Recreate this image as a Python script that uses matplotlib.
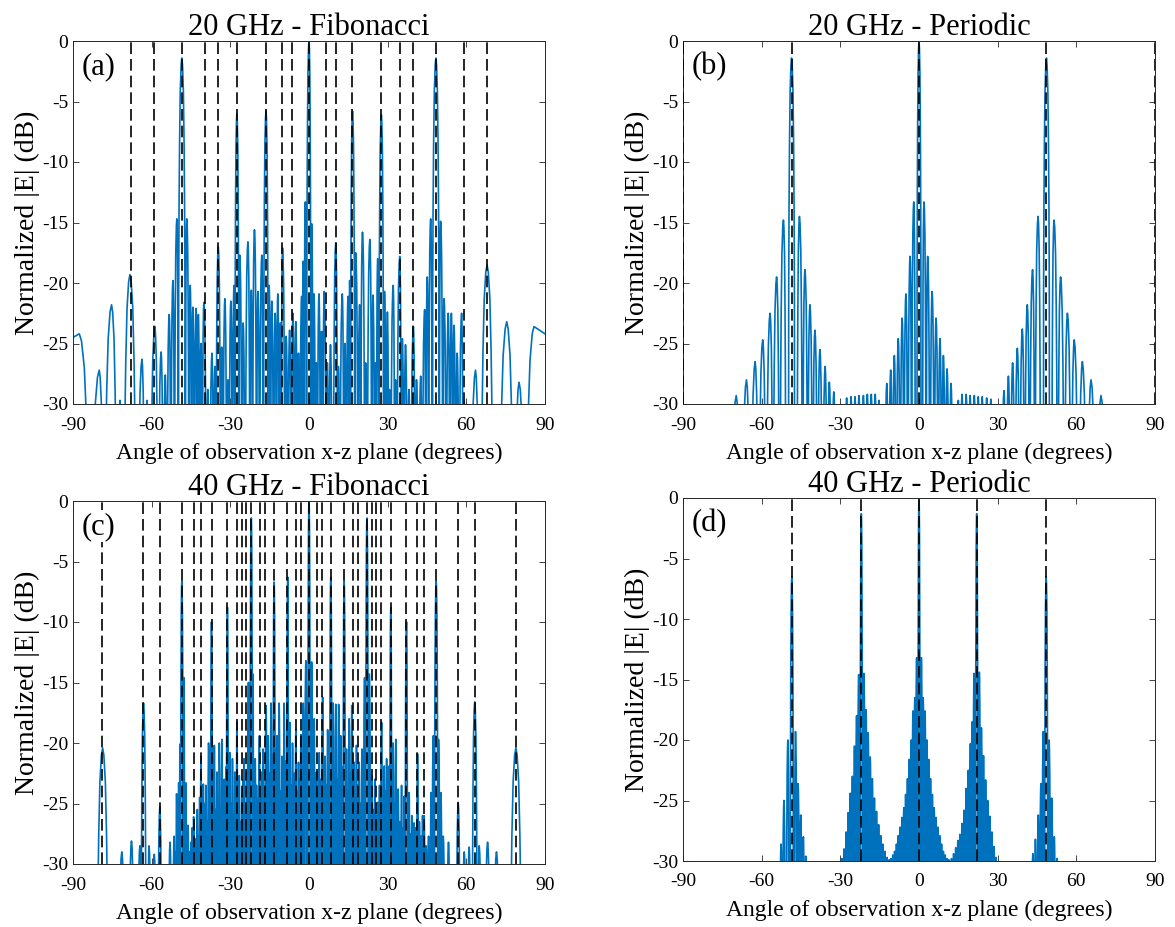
import numpy as np
import matplotlib
matplotlib.use('Agg')
import matplotlib.pyplot as plt

plt.rcParams['font.family'] = ['Liberation Serif', 'DejaVu Serif']
plt.rcParams['axes.unicode_minus'] = False

BLUE = '#0072BD'

# ---------------- data ----------------
# lobe peaks: (angle in degrees, level in dB)

# (a) 20 GHz - Fibonacci
a_lobes = [(-87.6, -24.2), (-80.0, -27.2), (-75.3, -21.8), (-72.1, -29.7), (-68.3, -19.3),
           (-63.7, -26.3), (-61.8, -29.7), (-58.8, -23.6), (-56.4, -25.7), (-54.8, -27.6),
           (-53.3, -22.6), (-51.9, -19.8), (-50.4, -14.7), (-48.5, -1.4), (-46.6, -14.7),
           (-45.3, -20.2), (-44.3, -22.0), (-43.1, -22.1), (-42.2, -22.6), (-41.2, -25.0),
           (-40.1, -21.6), (-38.6, -28.8), (-37.0, -25.8), (-35.9, -26.9), (-34.6, -17.0),
           (-33.3, -25.3), (-32.1, -21.3), (-30.9, -28.0), (-29.8, -21.5), (-28.6, -20.2),
           (-27.5, -6.0), (-26.4, -17.7), (-25.1, -23.3), (-23.3, -16.6), (-22.0, -20.6),
           (-20.8, -15.6), (-19.5, -20.7), (-18.0, -17.7), (-16.4, -5.8), (-15.2, -20.2),
           (-14.2, -21.5), (-12.9, -22.5), (-11.9, -20.9), (-10.9, -23.3), (-10.1, -17.1),
           (-8.7, -24.4), (-7.4, -23.9), (-6.1, -22.5), (-5.0, -23.2), (-4.0, -25.8),
           (-2.8, -21.1), (-2.2, -18.2), (-1.4, -13.3), (0.0, 0.0), (1.0, -15.1),
           (1.9, -20.9), (2.8, -26.6), (3.8, -20.9), (4.8, -24.0), (5.8, -20.7),
           (7.0, -26.6), (8.2, -25.1), (10.2, -16.7), (11.2, -26.9), (12.7, -20.9),
           (13.7, -25.0), (14.9, -21.1), (15.5, -19.8), (16.6, -5.8), (17.8, -17.5),
           (19.3, -21.8), (20.4, -15.8), (21.6, -26.6), (23.2, -16.4), (24.4, -21.0),
           (25.4, -26.6), (26.2, -18.0), (27.6, -6.1), (28.8, -20.7), (29.9, -22.4),
           (30.7, -28.8), (32.1, -20.2), (33.0, -28.0), (34.6, -17.8), (35.6, -24.6),
           (36.8, -25.1), (38.1, -28.8), (39.8, -23.6), (41.0, -28.0), (42.6, -27.7),
           (44.1, -22.2), (45.1, -19.5), (46.4, -14.7), (48.4, -1.4), (50.2, -14.9),
           (51.5, -21.3), (53.1, -22.5), (54.3, -22.5), (55.3, -23.5), (56.5, -25.8),
           (58.2, -22.5), (59.1, -29.7), (63.5, -27.2), (67.9, -18.5), (75.4, -23.2),
           (80.1, -28.2), (85.8, -23.6)]
a_start = (-90.0, -24.5)
a_end = (90.0, -24.2)
a_lines = [-67.9, -59.1, -48.5, -39.8, -34.8, -27.6, -16.5, -10.2, -6.3, 0,
           6.3, 10.2, 16.5, 27.6, 34.8, 39.8, 48.5, 59.1, 67.9]

# (b) 20 GHz - Periodic
b_lobes = [(-69.7, -29.3), (-65.8, -28.0), (-62.5, -26.5), (-59.6, -24.7), (-56.8, -22.5),
           (-54.3, -19.5), (-51.7, -14.8), (-48.6, -1.4), (-45.6, -14.5), (-43.5, -18.9),
           (-41.6, -21.8), (-39.7, -23.9), (-37.8, -25.5), (-35.8, -26.9), (-34.2, -28.2),
           (-32.5, -29.0),
           (-27.6, -29.5), (-25.9, -29.4), (-24.4, -29.4), (-22.9, -29.3), (-21.2, -29.3),
           (-19.7, -29.2), (-18.2, -29.2), (-16.7, -29.2), (-15.3, -29.7),
           (-12.3, -28.3), (-10.8, -27.2), (-9.4, -26.0), (-7.9, -24.6), (-6.4, -22.9),
           (-5.0, -20.9), (-3.4, -17.8), (-2.0, -13.3), (0.0, 0.0), (1.9, -13.3),
           (3.3, -17.8), (5.0, -20.7), (6.5, -22.9), (8.0, -24.6), (9.3, -26.0),
           (10.7, -27.1), (12.2, -28.3),
           (15.0, -29.7), (16.4, -29.2), (18.0, -29.2), (19.5, -29.3), (21.1, -29.3),
           (22.6, -29.4), (24.1, -29.4), (25.8, -29.5), (27.4, -29.6),
           (32.4, -28.9), (34.1, -27.7), (35.7, -26.6), (37.5, -25.4), (39.4, -23.8),
           (41.3, -21.8), (43.3, -18.9), (45.4, -14.5), (48.6, -1.4), (51.5, -14.8),
           (54.0, -19.5), (56.6, -22.5), (59.2, -24.7), (62.3, -26.5), (65.6, -28.0),
           (69.4, -29.3)]
b_lines = [-90, -48.6, 0, 48.6, 90]

# (c) 40 GHz - Fibonacci
c_lobes = [(-78.7, -20.4), (-71.4, -29.0), (-67.7, -28.1), (-64.5, -28.5), (-63.1, -16.7),
           (-61.0, -28.5), (-59.0, -29.2), (-56.9, -25.3), (-53.0, -28.2), (-51.4, -27.7),
           (-50.9, -29.0), (-50.5, -24.2), (-50.1, -27.5), (-49.7, -23.3), (-49.2, -20.1),
           (-48.5, -6.6), (-47.7, -14.6), (-47.3, -25.5), (-46.9, -23.3), (-46.5, -28.0),
           (-46.1, -26.8), (-45.5, -29.0), (-45.0, -28.2), (-44.5, -27.0), (-44.0, -26.1),
           (-43.5, -28.5), (-43.1, -27.9), (-42.6, -25.5), (-42.2, -27.7), (-41.7, -24.5),
           (-41.2, -21.1), (-40.7, -26.0), (-40.3, -23.4), (-39.8, -25.0), (-39.3, -23.5),
           (-38.8, -26.5), (-38.3, -20.0), (-37.7, -24.0), (-37.2, -10.0), (-36.6, -23.5),
           (-36.1, -20.2), (-35.6, -25.5), (-35.1, -22.4), (-34.6, -24.8), (-34.2, -20.0),
           (-33.7, -26.0), (-33.2, -19.7), (-32.7, -24.5), (-32.3, -23.0), (-31.7, -22.0),
           (-31.1, -8.8), (-30.6, -23.0), (-30.2, -20.8), (-29.7, -25.0), (-29.2, -21.3),
           (-28.7, -26.0), (-28.3, -22.4), (-27.9, -24.0), (-27.5, -18.3), (-27.0, -25.5),
           (-26.6, -22.7), (-26.1, -26.5), (-25.6, -24.4), (-25.2, -23.0), (-24.8, -21.3),
           (-24.3, -25.0), (-23.8, -22.4), (-23.1, -15.0), (-22.0, -1.4), (-21.4, -14.3),
           (-21.0, -24.0), (-20.5, -21.3), (-20.0, -23.5), (-19.6, -24.6), (-18.9, -19.4),
           (-18.5, -24.5), (-18.0, -22.4), (-17.5, -20.5), (-17.0, -24.0), (-16.4, -16.9),
           (-15.6, -19.4), (-15.0, -22.5), (-14.5, -16.7), (-13.9, -21.0), (-13.3, -6.7),
           (-12.7, -20.5), (-12.2, -19.4), (-11.8, -23.0), (-11.4, -16.7), (-10.8, -24.0),
           (-10.3, -21.1), (-9.9, -22.0), (-9.5, -16.7), (-8.8, -21.5), (-8.1, -6.3),
           (-7.7, -22.0), (-7.3, -18.3), (-6.8, -23.5), (-6.3, -20.0), (-5.6, -22.5),
           (-5.0, -18.9), (-4.5, -24.0), (-4.0, -21.6), (-3.5, -23.0), (-3.1, -19.3),
           (-2.6, -22.0), (-2.2, -16.7), (-1.2, -13.2), (0.0, 0.0), (1.0, -13.3),
           (2.0, -18.0), (2.4, -22.5), (2.9, -22.4), (3.4, -24.0), (3.9, -20.8),
           (4.5, -23.0), (5.2, -16.2), (6.1, -21.1), (6.6, -23.5), (7.1, -18.9),
           (7.7, -22.0), (8.3, -6.3), (9.2, -16.7), (9.7, -22.5), (10.2, -16.8),
           (10.8, -23.0), (11.3, -16.8), (12.1, -19.4), (12.8, -22.0), (13.4, -6.6),
           (14.3, -20.5), (14.8, -24.0), (15.3, -18.0), (15.8, -22.5), (16.3, -16.9),
           (17.2, -21.6), (17.6, -24.5), (18.1, -20.2), (18.6, -23.5), (19.1, -21.6),
           (19.6, -25.0), (20.2, -20.5), (21.2, -14.6), (22.1, -1.4), (23.0, -14.3),
           (23.9, -22.7), (24.5, -25.5), (25.1, -23.0), (25.6, -26.0), (26.1, -24.9),
           (26.9, -23.5), (27.7, -18.3), (28.2, -25.0), (28.7, -21.9), (29.2, -24.0),
           (29.6, -21.3), (30.1, -25.5), (30.6, -21.9), (31.2, -8.8), (31.7, -23.0),
           (32.1, -20.0), (32.6, -25.0), (33.1, -19.7), (33.6, -26.0), (34.0, -23.8),
           (34.7, -26.5), (35.3, -23.5), (35.8, -27.0), (36.3, -24.4), (37.2, -10.0),
           (37.7, -26.0), (38.2, -24.1), (38.7, -27.5), (39.2, -26.0), (39.7, -28.0),
           (40.1, -26.6), (40.8, -27.0), (41.4, -20.9), (42.1, -26.5), (42.7, -27.7),
           (43.3, -26.0), (43.9, -26.0), (44.7, -28.5), (45.6, -27.7), (46.1, -28.5),
           (46.5, -24.1), (47.4, -19.4), (48.5, -6.6), (49.4, -19.7), (50.3, -24.1),
           (51.2, -27.7), (53.2, -28.2), (56.9, -24.9), (59.2, -29.0), (61.1, -28.6),
           (63.2, -16.6), (64.9, -28.5), (68.1, -28.2), (71.5, -29.0), (78.9, -20.4)]
c_lines = [-78.8, -63.2, -56.8, -48.5, -43.8, -41.3, -37.1, -31.1, -27.6, -25.7,
           -23.9, -22.0, -18.7, -16.8, -13.3, -8.2, -5.1, -3.2, 0,
           3.2, 5.1, 8.2, 13.3, 16.8, 18.7, 22.0, 23.9, 25.7, 27.6, 31.1, 37.1,
           41.3, 43.8, 48.5, 56.8, 63.2, 78.8]

# (d) 40 GHz - Periodic
d_lobes = [(-52.6, -28.6), (-51.5, -25.0), (-50.0, -20.0), (-48.5, -6.5), (-47.1, -19.3),
           (-46.1, -23.6), (-45.1, -26.2), (-44.1, -28.0), (-43.2, -29.6),
           (-29.4, -29.8), (-28.6, -29.0), (-27.8, -27.6), (-27.0, -26.0), (-26.2, -24.4),
           (-25.4, -23.0), (-24.6, -20.5), (-23.8, -18.0), (-23.0, -14.6), (-22.0, -1.3),
           (-21.0, -14.5), (-20.2, -17.5), (-19.4, -19.4), (-18.6, -21.4), (-17.8, -23.2),
           (-17.0, -24.8), (-16.2, -25.9), (-15.4, -27.0), (-14.6, -27.9), (-13.8, -28.6),
           (-13.0, -29.2), (-12.2, -29.7),
           (-11.4, -29.9), (-10.7, -29.8), (-10.0, -29.5), (-9.3, -29.2), (-8.6, -28.6),
           (-7.9, -27.9), (-7.2, -27.2), (-6.5, -26.4), (-5.8, -25.6), (-5.1, -24.5),
           (-4.4, -23.2), (-3.7, -21.6), (-3.0, -20.0), (-2.3, -17.6), (-1.6, -16.5),
           (-0.9, -13.2), (0.0, 0.0), (0.9, -13.2), (1.6, -16.5), (2.3, -17.6),
           (3.0, -20.0), (3.7, -21.6), (4.4, -23.2), (5.1, -24.5), (5.8, -25.6),
           (6.5, -26.4), (7.2, -27.2), (7.9, -27.9), (8.6, -28.6), (9.3, -29.2),
           (10.0, -29.5), (10.7, -29.8), (11.4, -29.9),
           (12.4, -29.8), (13.2, -29.4), (14.0, -28.9), (14.8, -28.3), (15.6, -27.8),
           (16.4, -26.9), (17.2, -25.8), (18.0, -24.0), (18.8, -22.5), (19.6, -20.3),
           (20.3, -18.5), (21.0, -14.5), (22.0, -1.3), (23.0, -14.4), (23.8, -19.0),
           (24.6, -21.3), (25.4, -23.3), (26.2, -25.0), (27.0, -26.3), (27.8, -27.6),
           (28.6, -28.8), (29.4, -29.7),
           (43.4, -29.4), (44.4, -28.2), (45.5, -26.2), (46.5, -23.6), (47.4, -19.3),
           (48.5, -6.5), (49.6, -20.0), (50.6, -24.8), (51.6, -28.0), (52.6, -29.8)]
d_lines = [-48.5, -22.0, 0, 22.0, 48.5]

titles = ['20 GHz - Fibonacci', '20 GHz - Periodic', '40 GHz - Fibonacci', '40 GHz - Periodic']
tags = ['(a)', '(b)', '(c)', '(d)']

# ---------------- lobe glyph ----------------
# each lobe is drawn with a sinc-like outline: fraction of the way to the
# null on each side, and the drop below the peak there (dB)
LOBE_F = [0.2, 0.45, 0.65, 0.8, 0.9]
LOBE_DROP = [0.6, 2.8, 7.2, 12.6, 19.2]
FLOOR = -60.0


def lobe_curve(lobes, w0, start=None, end=None):
    deg = np.array([p[0] for p in lobes])
    db = np.array([p[1] for p in lobes])
    n = len(deg)
    # lobes get wider away from broadside
    cap = w0 / np.cos(np.radians(np.minimum(np.abs(deg), 85.0)))
    left = cap.copy()
    right = cap.copy()
    for i in range(n - 1):
        gap = deg[i + 1] - deg[i]
        f = 0.5 + 0.2 * min(abs(db[i] - db[i + 1]) / 10.0, 1.0)
        d = f * gap if db[i] >= db[i + 1] else (1 - f) * gap
        right[i] = min(right[i], d)
        left[i + 1] = min(left[i + 1], gap - d)

    xs, ys = [], []
    for i in range(n):
        if i == 0 and start is not None:
            xs.append(start[0]); ys.append(start[1])
        else:
            xs.append(deg[i] - left[i]); ys.append(FLOOR)
            for f, d in zip(LOBE_F[::-1], LOBE_DROP[::-1]):
                xs.append(deg[i] - f * left[i]); ys.append(db[i] - d)
        xs.append(deg[i]); ys.append(db[i])
        if i == n - 1 and end is not None:
            xs.append(end[0]); ys.append(end[1])
        else:
            for f, d in zip(LOBE_F, LOBE_DROP):
                xs.append(deg[i] + f * right[i]); ys.append(db[i] - d)
            xs.append(deg[i] + right[i]); ys.append(FLOOR)
    return np.array(xs), np.array(ys)


# ---------------- figure ----------------
W, H = 1175, 927
fig = plt.figure(figsize=(W / 100, H / 100), dpi=100)

# axes boxes in pixels: left, right, top, bottom
boxes = [(73, 545, 41, 404), (683, 1155, 41, 404),
         (73, 545, 501, 864), (683, 1155, 498, 861)]

curves = [lobe_curve(a_lobes, 0.9, a_start, a_end),
          lobe_curve(b_lobes, 0.8),
          lobe_curve(c_lobes, 0.45),
          lobe_curve(d_lobes, 0.4)]
lines = [a_lines, b_lines, c_lines, d_lines]

for k in range(4):
    l, r, t, b = boxes[k]
    ax = fig.add_axes([l / W, 1 - b / H, (r - l) / W, (b - t) / H])
    x, y = curves[k]
    ax.plot(x, y, color=BLUE, lw=1.2, zorder=2)
    for v in lines[k]:
        ax.axvline(v, color='k', lw=1.2, ls=(0, (7, 3)), zorder=3)

    ax.set_xlim(-90, 90)
    ax.set_ylim(-30, 0)
    ax.set_xticks(range(-90, 91, 30))
    ax.set_yticks(range(-30, 1, 5))
    ax.tick_params(direction='in', top=True, right=True, length=4, width=0.6,
                   labelsize=14, colors='#262626', labelcolor='black')
    ax.tick_params(axis='x', pad=9)
    for s in ax.spines.values():
        s.set_color('#262626')
        s.set_linewidth(0.7)

    ax.set_title(titles[k], fontsize=22, pad=4)
    ax.set_xlabel('Angle of observation x-z plane (degrees)', fontsize=17, labelpad=7)
    ax.set_ylabel('Normalized |E| (dB)', fontsize=20, labelpad=1)
    ax.text(0.019, 0.97, tags[k], transform=ax.transAxes, fontsize=22,
            ha='left', va='top', zorder=4,
            bbox=dict(facecolor='white', edgecolor='none', pad=1))

fig.savefig('out.png', dpi=100)
